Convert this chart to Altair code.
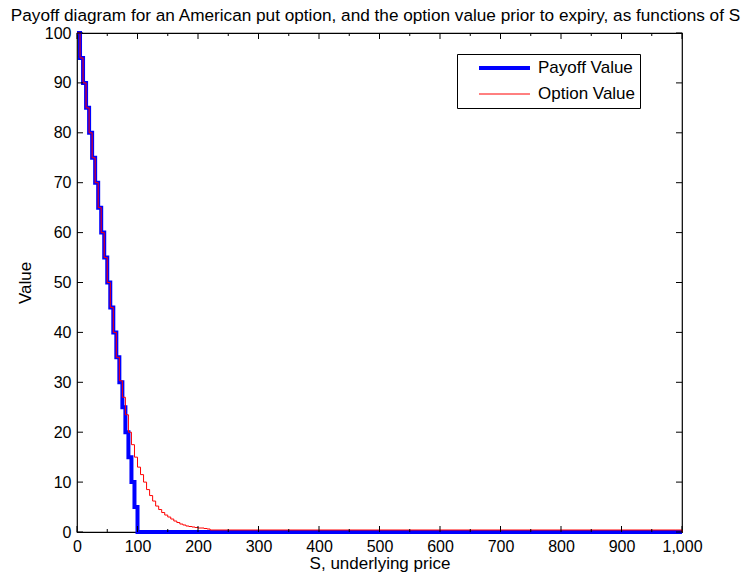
import altair as alt
import pandas as pd

# ---- data ----
payoff_S = [0, 5, 10, 15, 20, 25, 30, 35, 40, 45, 50, 55, 60, 65, 70, 75, 80, 85, 90, 95, 100, 1000]
payoff_V = [100, 95, 90, 85, 80, 75, 70, 65, 60, 55, 50, 45, 40, 35, 30, 25, 20, 15, 10, 5, 0, 0]

option_S = [0, 5, 10, 15, 20, 25, 30, 35, 40, 45, 50, 55, 60, 65, 70, 75, 80, 85, 90, 95,
            100, 105, 110, 115, 120, 125, 130, 135, 140, 145, 150, 155, 160, 165, 170, 175,
            180, 185, 190, 195, 200, 205, 210, 215, 220, 990, 1000]
option_V = [100, 95, 90, 85, 80, 75, 70, 65, 60, 55, 50, 45, 40, 35, 30.3, 27, 23.5, 20, 17.5, 15,
            13, 11.5, 10, 8.5, 7.3, 6.2, 5.2, 4.5, 3.9, 3.4, 3.0, 2.6, 2.2, 1.9, 1.6, 1.4,
            1.2, 1.1, 1.0, 0.9, 0.8, 0.8, 0.7, 0.6, 0.4, 0.4, 0.0]

series_names = ["Payoff Value", "Option Value"]
series_colors = ["#0000ff", "#ff0000"]
series_widths = [4, 1]

x_major = [0, 100, 200, 300, 400, 500, 600, 700, 800, 900, 1000]
x_minor = [50, 150, 250, 350, 450, 550, 650, 750, 850, 950]
y_major = [0, 10, 20, 30, 40, 50, 60, 70, 80, 90, 100]

W, H = 605, 499
FONT = "Liberation Sans"

df_pay = pd.DataFrame({"S": payoff_S, "V": payoff_V, "series": series_names[0]})
df_opt = pd.DataFrame({"S": option_S, "V": option_V, "series": series_names[1]})
df_xmaj = pd.DataFrame({"S": x_major})
df_xmin = pd.DataFrame({"S": x_minor})
df_ymaj = pd.DataFrame({"V": y_major})

xscale = alt.Scale(domain=[0, 1000], nice=False, zero=False)
yscale = alt.Scale(domain=[0, 100], nice=False, zero=False)

xenc = alt.X("S:Q", scale=xscale, title="S, underlying price",
             axis=alt.Axis(values=x_major, format=",d", ticks=False, domain=False, grid=False,
                           labelPadding=6, titlePadding=1, labelFlush=False, labelOverlap=False))
yenc = alt.Y("V:Q", scale=yscale, title="Value",
             axis=alt.Axis(values=y_major, format="d", ticks=False, domain=False, grid=False,
                           labelPadding=6, titlePadding=10, labelFlush=False, labelOverlap=False))

legend_kw = dict(title=None, orient="none", legendX=380, legendY=21,
                 symbolType="stroke", symbolSize=2600, clipHeight=20,
                 rowPadding=6, labelFontSize=17, labelOffset=6, symbolOffset=16,
                 strokeColor="black", fillColor="white", padding=4,
                 labelColor="black", labelFont=FONT)

color = alt.Color("series:N",
                  scale=alt.Scale(domain=series_names, range=series_colors),
                  legend=alt.Legend(**legend_kw))
width = alt.StrokeWidth("series:N",
                        scale=alt.Scale(domain=series_names, range=series_widths),
                        legend=alt.Legend(**legend_kw))

pay = alt.Chart(df_pay).mark_line(interpolate="step-after").encode(
    x=xenc, y=yenc, color=color, strokeWidth=width)
opt = alt.Chart(df_opt).mark_line(interpolate="step-after").encode(
    x="S:Q", y="V:Q", color=color, strokeWidth=width)

tick_color = "black"
xb = alt.Chart(df_xmaj).mark_rule(color=tick_color, strokeWidth=1).encode(
    x="S:Q", y=alt.value(H), y2=alt.value(H - 6))
xt = alt.Chart(df_xmaj).mark_rule(color=tick_color, strokeWidth=1).encode(
    x="S:Q", y=alt.value(0), y2=alt.value(6))
xbm = alt.Chart(df_xmin).mark_rule(color=tick_color, strokeWidth=1).encode(
    x="S:Q", y=alt.value(H), y2=alt.value(H - 3))
xtm = alt.Chart(df_xmin).mark_rule(color=tick_color, strokeWidth=1).encode(
    x="S:Q", y=alt.value(0), y2=alt.value(3))
yl = alt.Chart(df_ymaj).mark_rule(color=tick_color, strokeWidth=1).encode(
    y="V:Q", x=alt.value(0), x2=alt.value(6))
yr = alt.Chart(df_ymaj).mark_rule(color=tick_color, strokeWidth=1).encode(
    y="V:Q", x=alt.value(W), x2=alt.value(W - 6))

chart = alt.layer(pay, opt, xb, xt, xbm, xtm, yl, yr).properties(
    width=W, height=H,
    title=alt.TitleParams(
        "Payoff diagram for an American put option, and the option value prior to expiry, as functions of S",
        fontSize=17.2, fontWeight="normal", anchor="middle", offset=1, dx=-4,
        color="black", font=FONT),
    autosize=alt.AutoSizeParams(type="none"),
    padding={"left": 69, "top": 25, "right": 60, "bottom": 40},
).configure(
    font=FONT,
).configure_view(
    stroke="black", strokeWidth=1.2
).configure_axis(
    labelFontSize=16, titleFontSize=17, labelColor="black", titleColor="black",
    titleFontWeight="normal", labelFont=FONT, titleFont=FONT
)

chart.save("out.html", embed_options={"renderer": "svg", "actions": False})
